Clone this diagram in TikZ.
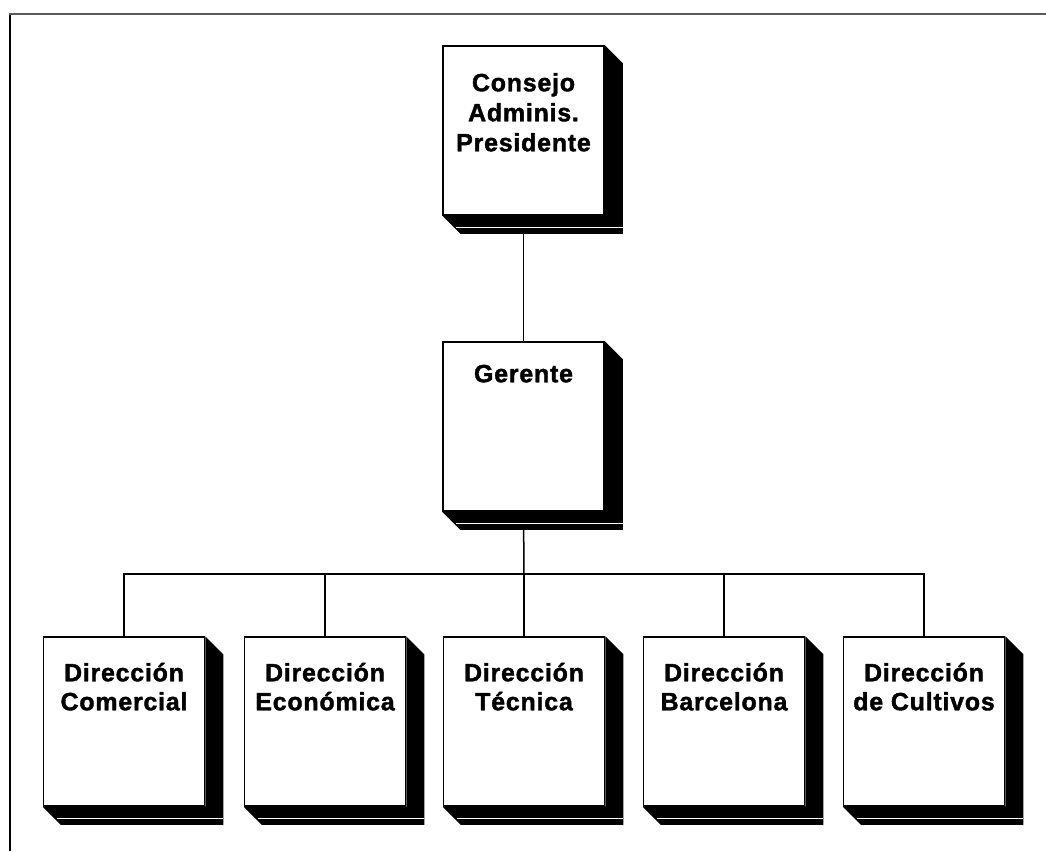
\documentclass[tikz,border=0pt]{standalone}
\usepackage{fontspec}
\setmainfont{Liberation Sans}[LetterSpace=3, BoldFeatures={FakeBold=1.5}]
\usetikzlibrary{backgrounds}
\newcommand\orgshadow[1]{%
  \fill (#1.north east) -- ++(18,18) -- ([shift={(18,18)}]#1.south east)
    -- ([shift={(18,18)}]#1.south west) -- (#1.south west) -- (#1.south east) -- cycle;
  \draw[white, line width=1.2pt] ([shift={(14,12)}]#1.south west) -- ([shift={(18,12)}]#1.south east);}
\begin{document}
\begin{tikzpicture}[x=1pt,y=-1pt,
  orgbox/.style={draw, fill=white, line width=1.5pt, minimum width=161pt, minimum height=169pt, inner sep=0pt},
  lbl/.style={anchor=base, inner sep=0pt, font=\bfseries\fontsize{25}{29}\selectfont},
  conn/.style={line width=1.5pt}]
\useasboundingbox (0,0) rectangle (1046,851);
% frame
\draw[line width=1.6pt] (10,851) -- (10,14);
\draw[line width=1.4pt, black!65] (9,14) -- (1046,14);
% boxes
\node[orgbox] (pres) at (523.5,130.5) {};
\node[orgbox] (ger) at (523.5,426.5) {};
\node[orgbox] (d1) at (124,721.5) {};
\node[orgbox] (d2) at (325,721.5) {};
\node[orgbox] (d3) at (524,721.5) {};
\node[orgbox] (d4) at (724,721.5) {};
\node[orgbox] (d5) at (924,721.5) {};
\coordinate (bus) at (524,574);
\begin{scope}[on background layer]
  \draw[conn] (pres.south) -- (ger.north);
  \draw[conn] (ger.south) -- (bus);
  \draw[conn] (d1.north) |- (bus) -| (d5.north);
  \foreach \d in {d2,d3,d4} \draw[conn] (\d.north) -- (\d.north |- bus);
  \foreach \d in {pres,ger,d1,d2,d3,d4,d5} \orgshadow{\d};
\end{scope}
% texts
\node[lbl] (pres1) at ([yshift=-46pt]pres.north) {Consejo};
\node[lbl] (pres2) at ([yshift=-76pt]pres.north) {Adminis.};
\node[lbl] (pres3) at ([yshift=-106pt]pres.north) {Presidente};
\node[lbl] (ger1) at ([yshift=-41pt]ger.north) {Gerente};
\node[lbl] (d1a) at ([yshift=-45pt]d1.north) {Dirección};
\node[lbl] (d1b) at ([yshift=-74pt]d1.north) {Comercial};
\node[lbl] (d2a) at ([yshift=-45pt]d2.north) {Dirección};
\node[lbl] (d2b) at ([yshift=-74pt]d2.north) {Económica};
\node[lbl] (d3a) at ([yshift=-45pt]d3.north) {Dirección};
\node[lbl] (d3b) at ([yshift=-74pt]d3.north) {Técnica};
\node[lbl] (d4a) at ([yshift=-45pt]d4.north) {Dirección};
\node[lbl] (d4b) at ([yshift=-74pt]d4.north) {Barcelona};
\node[lbl] (d5a) at ([yshift=-45pt]d5.north) {Dirección};
\node[lbl] (d5b) at ([yshift=-74pt]d5.north) {de Cultivos};
\end{tikzpicture}
\end{document}
